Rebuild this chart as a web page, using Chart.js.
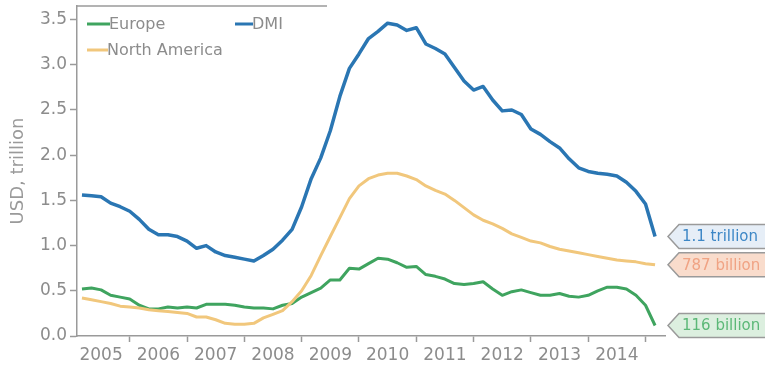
<!DOCTYPE html>
<html>
<head>
<meta charset="utf-8">
<script src="https://cdn.jsdelivr.net/npm/chart.js@4/dist/chart.umd.min.js"></script>
<style>
  body { margin: 0; background: #fff; }
  #grafico { display: block; }
</style>
</head>
<body>
<canvas id="grafico" width="765" height="373"></canvas>
<script>
// bi-monthly readings, Mar 2005 .. Mar 2015 (USD trillion)
const months = [
  '2005-03', '2005-05', '2005-07', '2005-09', '2005-11',
  '2006-01', '2006-03', '2006-05', '2006-07', '2006-09', '2006-11',
  '2007-01', '2007-03', '2007-05', '2007-07', '2007-09', '2007-11',
  '2008-01', '2008-03', '2008-05', '2008-07', '2008-09', '2008-11',
  '2009-01', '2009-03', '2009-05', '2009-07', '2009-09', '2009-11',
  '2010-01', '2010-03', '2010-05', '2010-07', '2010-09', '2010-11',
  '2011-01', '2011-03', '2011-05', '2011-07', '2011-09', '2011-11',
  '2012-01', '2012-03', '2012-05', '2012-07', '2012-09', '2012-11',
  '2013-01', '2013-03', '2013-05', '2013-07', '2013-09', '2013-11',
  '2014-01', '2014-03', '2014-05', '2014-07', '2014-09', '2014-11',
  '2015-01', '2015-03'
];

const dmi = [
  1.56, 1.55, 1.54, 1.47, 1.43,
  1.38, 1.29, 1.18, 1.12, 1.12, 1.10,
  1.05, 0.97, 1.00, 0.93, 0.89, 0.87,
  0.85, 0.83, 0.89, 0.96, 1.06, 1.18,
  1.43, 1.74, 1.97, 2.27, 2.65, 2.96,
  3.12, 3.29, 3.37, 3.46, 3.44, 3.38,
  3.41, 3.23, 3.18, 3.12, 2.97, 2.82,
  2.72, 2.76, 2.61, 2.49, 2.50, 2.45,
  2.29, 2.23, 2.15, 2.08, 1.96, 1.86,
  1.82, 1.80, 1.79, 1.77, 1.70, 1.60,
  1.46, 1.10
];

const northAmerica = [
  0.42, 0.40, 0.38, 0.36, 0.33,
  0.32, 0.31, 0.29, 0.28, 0.27, 0.26,
  0.25, 0.21, 0.21, 0.18, 0.14, 0.13,
  0.13, 0.14, 0.20, 0.24, 0.28, 0.38,
  0.50, 0.67, 0.89, 1.10, 1.31, 1.52,
  1.66, 1.74, 1.78, 1.80, 1.80, 1.77,
  1.73, 1.66, 1.61, 1.57, 1.50, 1.42,
  1.34, 1.28, 1.24, 1.19, 1.13, 1.09,
  1.05, 1.03, 0.99, 0.96, 0.94, 0.92,
  0.90, 0.88, 0.86, 0.84, 0.83, 0.82,
  0.80, 0.787
];

const europe = [
  0.52, 0.53, 0.51, 0.45, 0.43,
  0.41, 0.34, 0.30, 0.30, 0.32, 0.31,
  0.32, 0.31, 0.35, 0.35, 0.35, 0.34,
  0.32, 0.31, 0.31, 0.30, 0.34, 0.36,
  0.43, 0.48, 0.53, 0.62, 0.62, 0.75,
  0.74, 0.80, 0.86, 0.85, 0.81, 0.76,
  0.77, 0.68, 0.66, 0.63, 0.58, 0.57,
  0.58, 0.60, 0.52, 0.45, 0.49, 0.51,
  0.48, 0.45, 0.45, 0.47, 0.44, 0.43,
  0.45, 0.50, 0.54, 0.54, 0.52, 0.45,
  0.34, 0.116
];

const yearLabels = [2005, 2006, 2007, 2008, 2009, 2010, 2011, 2012, 2013, 2014];
const yTicks = [0, 0.5, 1, 1.5, 2, 2.5, 3, 3.5];

const gris = '#9a9a9a';
const textoGris = '#8c8c8c';
const fuente = 'DejaVu Sans';

// line colour + callout colours for each series
const estilos = {
  'DMI': { line: '#2a76b3', fill: '#e6eef7', text: '#3d87c6' },
  'North America': { line: '#f1c77c', fill: '#f9dccc', text: '#f0a384' },
  'Europe': { line: '#3fa45f', fill: '#dcefdf', text: '#5cb877' }
};

const toYear = m => {
  const [y, mo] = m.split('-').map(Number);
  return y + (mo - 1) / 12;
};
const puntos = serie => serie.map((v, i) => ({ x: toYear(months[i]), y: v }));

function crearDataset(label, serie, width) {
  return {
    label,
    data: puntos(serie),
    borderColor: estilos[label].line,
    borderWidth: width,
    borderJoinStyle: 'round',
    pointRadius: 0,
    tension: 0,
    fill: false
  };
}

function formatoValor(v) {
  return v >= 1 ? v.toFixed(1) + ' trillion' : Math.round(v * 1000) + ' billion';
}

// legend, partial top frame and end-of-line callouts
const extras = {
  id: 'extras',
  afterDraw(chart) {
    const { ctx, chartArea: area, scales: { y } } = chart;
    ctx.save();

    ctx.strokeStyle = gris;
    ctx.lineWidth = 1.5;
    ctx.beginPath();
    ctx.moveTo(area.left, area.top);
    ctx.lineTo(area.left + 250, area.top);
    ctx.stroke();

    const leyenda = [
      { label: 'Europe', x: 10, len: 23, row: 18 },
      { label: 'DMI', x: 158, len: 18, row: 18 },
      { label: 'North America', x: 10, len: 21, row: 44 }
    ];
    ctx.font = '16px "' + fuente + '"';
    ctx.textBaseline = 'middle';
    leyenda.forEach(item => {
      const lx = area.left + item.x;
      const ly = area.top + item.row;
      ctx.strokeStyle = estilos[item.label].line;
      ctx.lineWidth = 3;
      ctx.beginPath();
      ctx.moveTo(lx, ly);
      ctx.lineTo(lx + item.len, ly);
      ctx.stroke();
      ctx.fillStyle = textoGris;
      ctx.fillText(item.label, lx + item.len - 1, ly + 1);
    });

    ctx.font = '15px "' + fuente + '"';
    chart.data.datasets.forEach(ds => {
      const last = ds.data[ds.data.length - 1].y;
      const cy = y.getPixelForValue(last);
      const tip = area.right + 3;
      const left = tip + 11;
      const h = 24;
      const st = estilos[ds.label];
      ctx.beginPath();
      ctx.moveTo(chart.width + 5, cy - h / 2);
      ctx.lineTo(left, cy - h / 2);
      ctx.lineTo(tip, cy);
      ctx.lineTo(left, cy + h / 2);
      ctx.lineTo(chart.width + 5, cy + h / 2);
      ctx.fillStyle = st.fill;
      ctx.fill();
      ctx.strokeStyle = gris;
      ctx.lineWidth = 1.5;
      ctx.stroke();
      ctx.fillStyle = st.text;
      ctx.fillText(formatoValor(last), left + 3, cy + 1);
    });

    ctx.restore();
  }
};

const config = {
  type: 'line',
  data: {
    datasets: [
      crearDataset('North America', northAmerica, 3),
      crearDataset('Europe', europe, 3),
      crearDataset('DMI', dmi, 3.5)
    ]
  },
  options: {
    responsive: false,
    animation: false,
    layout: { padding: { top: 6, right: 100, left: 0, bottom: 0 } },
    plugins: { legend: { display: false }, tooltip: { enabled: false } },
    scales: {
      x: {
        type: 'linear',
        min: 2005.08,
        max: 2015.34,
        afterBuildTicks: s => {
          const t = [];
          yearLabels.forEach(yr => { t.push({ value: yr + 0.5 }); t.push({ value: yr + 1 }); });
          s.ticks = t;
        },
        afterFit: s => { s.height = 37; s.paddingLeft = 0; s.paddingRight = 0; },
        border: { color: gris, width: 1.5 },
        grid: {
          drawOnChartArea: false,
          tickLength: 6,
          tickWidth: 1.5,
          tickColor: c => Number.isInteger(c.tick.value) ? gris : 'rgba(0,0,0,0)'
        },
        ticks: {
          autoSkip: false,
          maxRotation: 0,
          padding: 3,
          color: textoGris,
          font: { family: fuente, size: 17 },
          callback: v => Number.isInteger(v) ? '' : String(Math.floor(v))
        }
      },
      y: {
        min: 0,
        max: 3.65,
        afterBuildTicks: s => { s.ticks = yTicks.map(v => ({ value: v })); },
        afterFit: s => { s.width = 77; s.paddingTop = 0; s.paddingBottom = 0; },
        border: { color: gris, width: 1.5 },
        grid: { drawOnChartArea: false, tickLength: 7, tickWidth: 1.5, tickColor: gris },
        ticks: {
          padding: 3,
          color: textoGris,
          font: { family: fuente, size: 17 },
          callback: v => v.toFixed(1)
        },
        title: {
          display: true,
          text: 'USD, trillion',
          color: gris,
          font: { family: fuente, size: 18 },
          padding: { top: 8, bottom: 0 }
        }
      }
    }
  },
  plugins: [extras]
};

const myChart = new Chart(document.getElementById('grafico'), config);
</script>
</body>
</html>
